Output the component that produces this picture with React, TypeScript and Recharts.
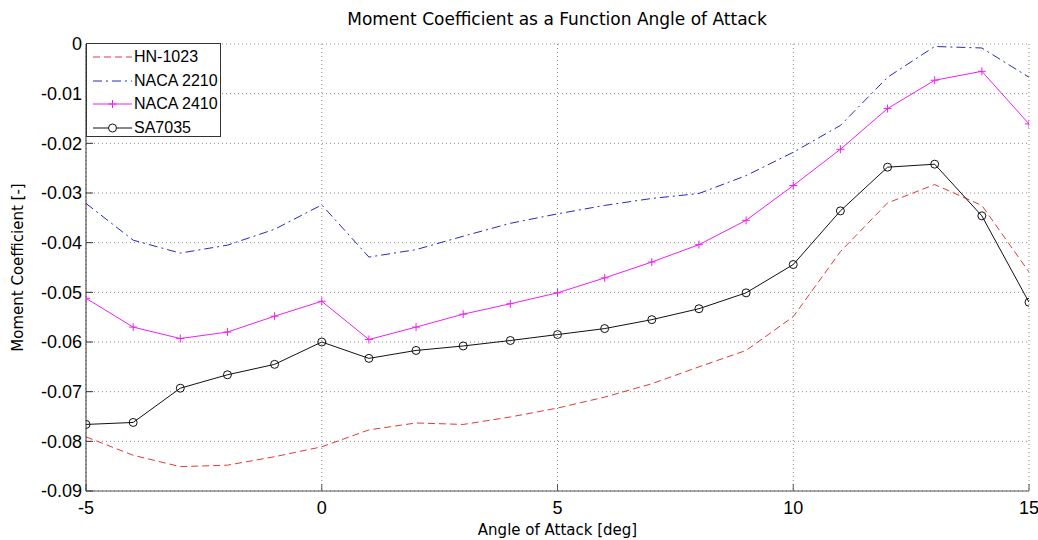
import React from 'react';
import { LineChart, Line, XAxis, YAxis, CartesianGrid, Label } from 'recharts';

const aoa = [-5, -4, -3, -2, -1, 0, 1, 2, 3, 4, 5, 6, 7, 8, 9, 10, 11, 12, 13, 14, 15];
const hn1023 = [-0.0791, -0.0828, -0.0851, -0.0848, -0.0831, -0.0811, -0.0777, -0.0763, -0.0766, -0.0751, -0.0733, -0.0711, -0.0684, -0.065, -0.0617, -0.0549, -0.0418, -0.032, -0.0283, -0.0325, -0.0459];
const naca2210 = [-0.0321, -0.0395, -0.0421, -0.0405, -0.0373, -0.0324, -0.0429, -0.0414, -0.0387, -0.0361, -0.0342, -0.0325, -0.0311, -0.0301, -0.0265, -0.0218, -0.0164, -0.0067, -0.0005, -0.0008, -0.0067];
const naca2410 = [-0.0512, -0.057, -0.0593, -0.058, -0.0548, -0.0518, -0.0595, -0.057, -0.0544, -0.0523, -0.0501, -0.0471, -0.0439, -0.0404, -0.0355, -0.0285, -0.0212, -0.013, -0.0073, -0.0055, -0.0161];
const sa7035 = [-0.0766, -0.0762, -0.0693, -0.0666, -0.0645, -0.06, -0.0633, -0.0617, -0.0608, -0.0597, -0.0585, -0.0573, -0.0555, -0.0533, -0.0501, -0.0444, -0.0336, -0.0248, -0.0242, -0.0346, -0.052];

const xTicks = [-5, 0, 5, 10, 15];
const yTicks = [-0.09, -0.08, -0.07, -0.06, -0.05, -0.04, -0.03, -0.02, -0.01, 0];

const seriesNames = ['HN-1023', 'NACA 2210', 'NACA 2410', 'SA7035'];

const data = aoa.map((a, i) => ({
  aoa: a,
  hn: hn1023[i],
  n2210: naca2210[i],
  n2410: naca2410[i],
  sa: sa7035[i],
}));

const RED = '#e03a3a';
const BLUE = '#2828c0';
const MAG = '#f020f0';
const BLK = '#111111';

const PlusDot = (props: any) => {
  const { cx, cy } = props;
  if (cx == null || cy == null) return null;
  return (
    <g>
      <line x1={cx - 4} y1={cy} x2={cx + 4} y2={cy} stroke={MAG} strokeWidth={1} />
      <line x1={cx} y1={cy - 4} x2={cx} y2={cy + 4} stroke={MAG} strokeWidth={1} />
    </g>
  );
};

const CircleDot = (props: any) => {
  const { cx, cy } = props;
  if (cx == null || cy == null) return null;
  return <circle cx={cx} cy={cy} r={4} fill="none" stroke={BLK} strokeWidth={1} />;
};

const fmtY = (v: number) => (Math.abs(v) < 1e-9 ? '0' : v.toFixed(2));

const tickStyle = { fontFamily: 'Liberation Sans, Arial, sans-serif', fontSize: 18, fill: '#000' };
const labelFont = 'DejaVu Sans, Verdana, sans-serif';

const YLabel = (props: any) => {
  const vb = props.viewBox || {};
  const cy = (vb.y ?? 44) + (vb.height ?? 447) / 2;
  const cx = 18;
  return (
    <text x={cx} y={cy} transform={`rotate(-90 ${cx} ${cy})`} textAnchor="middle" dominantBaseline="central" fontFamily={labelFont} fontSize={15} fill="#000">
      Moment Coefficient [-]
    </text>
  );
};

const legendRows = [
  { name: seriesNames[0], color: RED, dash: '7 4', marker: null },
  { name: seriesNames[1], color: BLUE, dash: '9 4 2 4', marker: null },
  { name: seriesNames[2], color: MAG, dash: undefined, marker: 'plus' },
  { name: seriesNames[3], color: BLK, dash: undefined, marker: 'circle' },
];

export default function App() {
  return (
    <div style={{ position: 'absolute', left: 0, top: 0, width: 1038, height: 540, background: '#fff' }}>
      <LineChart width={1038} height={540} data={data} margin={{ top: 44, right: 9, bottom: 0, left: 0 }}>
        <CartesianGrid stroke="#8a8a8a" strokeDasharray="1 3" verticalValues={xTicks} horizontalValues={yTicks} />
        <XAxis
          dataKey="aoa"
          type="number"
          domain={[-5, 15]}
          ticks={xTicks}
          allowDataOverflow
          height={49}
          tickSize={-7}
          tickMargin={17}
          tick={tickStyle}
          stroke="#555"
          tickLine={{ stroke: '#555' }}
          axisLine={{ stroke: '#555' }}
        >
          <Label value="Angle of Attack [deg]" position="insideBottom" offset={5} style={{ fontFamily: labelFont, fontSize: 15, fill: '#000' }} />
        </XAxis>
        <YAxis
          type="number"
          domain={[-0.09, 0]}
          ticks={yTicks}
          allowDataOverflow
          width={86}
          tickSize={-7}
          tickMargin={11}
          tick={tickStyle}
          tickFormatter={fmtY}
          stroke="#333"
          tickLine={{ stroke: '#333' }}
          axisLine={{ stroke: '#333' }}
          label={<YLabel />}
        />
        <Line type="linear" dataKey="hn" name={seriesNames[0]} stroke={RED} strokeWidth={1} strokeDasharray="7 4" dot={false} isAnimationActive={false} />
        <Line type="linear" dataKey="n2210" name={seriesNames[1]} stroke={BLUE} strokeWidth={1} strokeDasharray="9 4 2 4" dot={false} isAnimationActive={false} />
        <Line type="linear" dataKey="n2410" name={seriesNames[2]} stroke={MAG} strokeWidth={1} dot={<PlusDot />} isAnimationActive={false} />
        <Line type="linear" dataKey="sa" name={seriesNames[3]} stroke={BLK} strokeWidth={1} dot={<CircleDot />} isAnimationActive={false} />
      </LineChart>
      <div style={{ position: 'absolute', left: 0, width: 1114, top: 9, textAlign: 'center', fontFamily: labelFont, fontSize: 17, color: '#000', lineHeight: '20px' }}>
        Moment Coefficient as a Function Angle of Attack
      </div>
      <div style={{ position: 'absolute', left: 86, top: 43, width: 135, height: 94, border: '1px solid #333', background: '#fff', boxSizing: 'border-box' }}>
        {legendRows.map((r, i) => (
          <div key={r.name} style={{ position: 'absolute', left: 0, top: 2 + i * 23.5, height: 22, width: 134, display: 'flex', alignItems: 'center' }}>
            <svg width={46} height={22} style={{ display: 'block' }}>
              <line x1={6} y1={11} x2={45} y2={11} stroke={r.color} strokeWidth={1} strokeDasharray={r.dash} />
              {r.marker === 'plus' && (
                <g>
                  <line x1={21.5} y1={11} x2={29.5} y2={11} stroke={r.color} />
                  <line x1={25.5} y1={7} x2={25.5} y2={15} stroke={r.color} />
                </g>
              )}
              {r.marker === 'circle' && <circle cx={25.5} cy={11} r={4} fill="#fff" stroke={r.color} />}
            </svg>
            <span style={{ fontFamily: 'Liberation Sans, Arial, sans-serif', fontSize: 16, color: '#000', marginLeft: 1 }}>{r.name}</span>
          </div>
        ))}
      </div>
    </div>
  );
}
